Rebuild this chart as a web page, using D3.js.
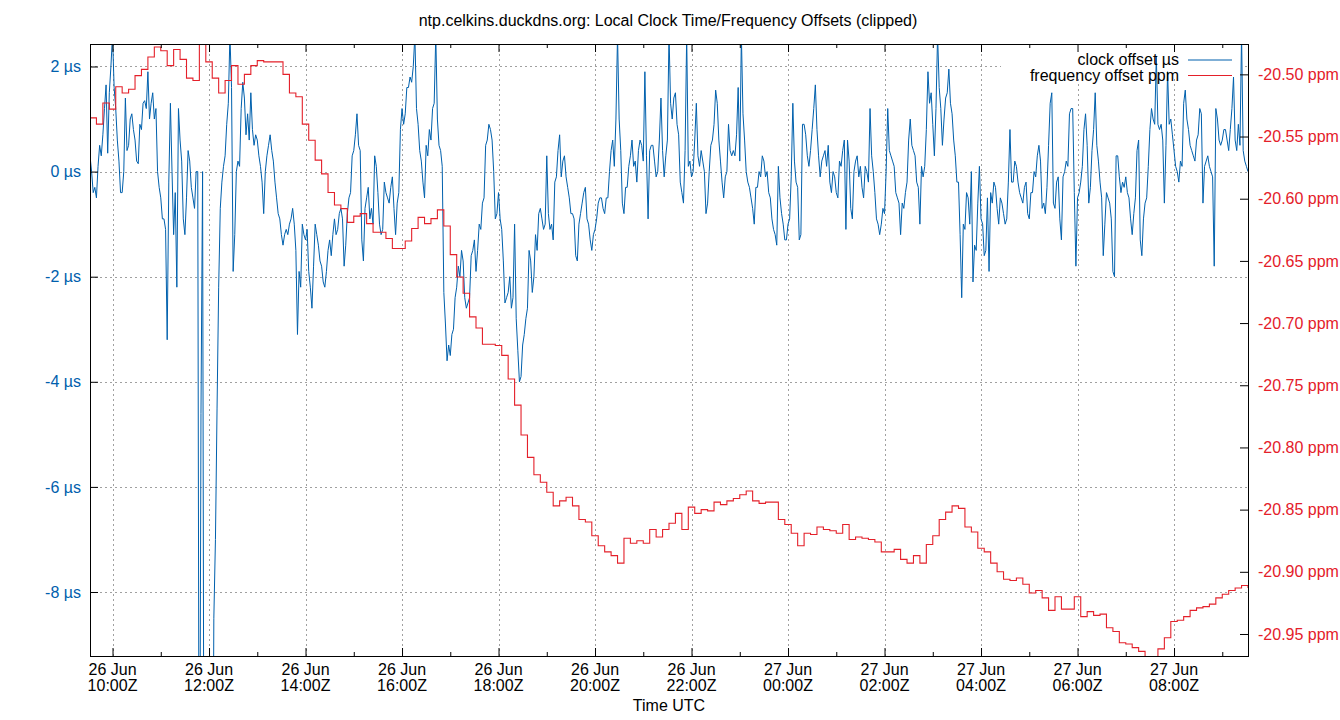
<!DOCTYPE html>
<html>
<head>
<meta charset="utf-8">
<script src="https://cdn.jsdelivr.net/npm/d3@7"></script>
<style>
  body { margin: 0; background: #fff; }
  svg { display: block; font-family: "Liberation Sans", Arial, sans-serif; }
</style>
</head>
<body>
<script>
// clock offset in µs, one value every 2 minutes from 26 Jun 09:32Z
let clockStart = Date.UTC(2023, 5, 26, 9, 32);
let clockStepMin = 2;
let clockOffsets = [
  0.3, 0.0, -0.4, -0.3, -0.5, 0.1, 0.5, 0.3, 0.7, 1.2, 1.65, 0.35, 1.5, 2.0, 2.6, 1.6, 1.2, 0.6, 0.2, -0.4,
  -0.4, 0.0, 1.4, 0.4, 0.5, 1.0, 1.1, 0.8, 0.6, 0.2, 0.15, 0.9, 0.8, 1.3, 1.35, 1.2, 1.9, 1.0, 1.3, 1.5,
  1.0, 1.2, 0.0, -0.3, -0.5, -0.9, -0.9, -1.1, -3.2, -0.2, 1.3, 0.0, -1.2, -0.4, -2.2, 1.2, 0.6, 0.2, -0.9, -1.2,
  -0.5, 0.4, 0.2, -0.3, -0.5, -0.7, 0.0, 0.0, -15, -4.6, 0.0, -15, -15, -15, -15, -15, -15, -8.5, -7.0, -4.5,
  -2.2, -0.7, -0.2, 0.1, 0.3, 0.9, 1.3, 2.6, 1.6, -1.9, -1.2, 0.0, 0.2, 0.1, 1.2, 1.7, 1.4, 0.7, 1.1, 0.6,
  1.5, 0.8, 0.5, 0.7, 0.6, 0.3, 0.1, -0.2, -0.8, 0.0, 0.3, 0.5, 0.7, 0.4, 0.2, -0.2, -0.5, -0.8, -0.9, -1.2,
  -1.4, -1.2, -1.1, -1.2, -1.0, -0.9, -0.7, -1.0, -1.5, -3.1, -1.9, -2.2, -1.0, -1.2, -1.3, -1.1, -1.9, -2.2, -2.6, -1.8,
  -1.0, -1.2, -1.4, -1.7, -1.8, -2.1, -2.2, -1.9, -1.5, -1.3, -1.6, -1.2, -0.9, -1.2, -1.1, -0.8, -0.7, -0.9, -1.8, -1.4,
  -0.8, -0.5, -0.4, 0.3, 0.4, 0.7, 1.1, 0.5, 0.4, -1.3, -1.7, -0.7, -0.5, -0.3, -0.9, -0.7, -1.0, 0.3, 0.1, -0.4,
  -1.0, -1.2, -1.1, -0.2, -0.4, -0.5, -0.6, -0.3, -0.1, -0.7, -1.2, -0.6, -0.4, 0.8, 1.2, 0.9, 1.1, 1.6, 1.6, 1.8,
  1.7, 2.0, 2.6, 1.2, 0.9, 0.4, 0.2, -0.2, -0.5, 0.5, 0.3, 0.8, 0.6, 1.2, 1.3, 2.6, 1.0, 0.5, 0.4, 0.1,
  -2.3, -2.9, -3.6, -3.3, -3.5, -3.1, -3.0, -2.4, -2.2, -1.8, -2.0, -1.5, -1.7, -2.4, -2.6, -2.5, -2.4, -1.6, -1.5, -1.3,
  -1.9, -1.5, -1.0, -1.1, -0.6, -0.5, 0.5, 0.6, 0.9, 0.8, 0.6, 0.0, -0.9, -0.8, -0.4, -0.9, -1.1, -1.7, -2.5, -2.4,
  -2.3, -2.0, -2.6, -2.4, -1.0, -2.8, -3.4, -4.0, -3.9, -3.3, -3.1, -2.8, -2.6, -1.5, -1.7, -2.3, -2.0, -1.2, -1.5, -0.8,
  -0.7, -0.9, -1.1, -1.0, 0.3, -0.8, -1.1, -1.0, -1.3, -0.2, -0.1, 0.4, 0.7, -0.1, 0.2, 0.3, -0.1, -0.3, -0.5, -0.8,
  -0.8, -0.9, -1.6, -1.7, -1.0, -0.8, -0.6, -0.4, -0.3, -0.9, -1.0, -1.3, -1.5, -1.2, -1.1, -0.9, -0.6, -0.5, -0.5, -0.7,
  -0.8, -0.5, -0.5, 0.0, 0.4, 0.6, 0.1, 1.0, 2.6, 1.0, 0.4, -0.6, -0.8, -0.3, -0.3, 0.1, 0.3, 0.6, 0.1, 0.2,
  -0.2, 0.4, 0.6, 0.5, 0.2, 1.9, 0.3, -0.9, 0.4, 0.5, 0.5, 0.2, -0.1, 0.0, 0.6, 1.4, 0.4, -0.1, 0.3, 0.6,
  2.6, 1.3, 1.0, 1.4, 1.5, 0.9, 0.7, -0.2, -0.4, -0.6, 0.4, 2.6, 0.1, 0.2, -0.1, 0.0, 0.6, 1.3, 0.3, 0.1,
  0.4, 0.2, 0.0, -0.8, -0.6, 0.0, 0.5, 0.6, 0.9, 1.55, 1.3, 0.6, 0.2, -0.2, -0.5, -0.1, 0.0, 0.9, 0.4, 0.3,
  0.4, 0.3, 0.7, 1.6, 0.2, 2.6, 1.1, 0.6, 0.0, -0.2, -0.3, -0.5, -0.7, -1.0, -0.3, -0.3, 0.0, -0.1, 0.3, 0.2,
  -0.1, 0.0, -0.4, -0.5, -0.9, -1.1, -1.2, -1.4, 0.1, -0.5, -0.8, -1.0, -1.3, -1.3, -1.0, -0.9, -0.1, 1.3, 0.2, -0.2,
  -0.3, -1.3, -1.2, 0.9, 0.9, 0.7, 0.3, 0.1, 0.4, 0.8, 1.2, 1.65, 0.8, 0.3, -0.1, 0.2, 0.3, 0.4, 0.1, 0.5,
  -0.2, -0.4, 0.0, -0.1, -0.4, -0.5, 0.2, 0.1, 0.4, 0.6, -1.1, 0.6, 0.2, -0.7, -0.9, 0.0, 0.2, 0.3, -0.1, 0.1,
  -0.3, -0.5, 0.1, 0.0, -0.2, 1.2, 0.3, 0.0, -0.4, -0.9, -1.0, -1.2, -1.0, -0.7, -0.8, 0.0, 1.2, 0.4, 0.3, 0.2,
  0.1, -0.4, -0.5, -0.6, -1.2, -0.6, -0.7, -0.4, -0.2, 0.6, 1.0, 0.5, 0.4, 0.3, -0.2, -0.3, -1.0, 0.1, -0.1, 0.1,
  0.8, 1.9, 1.3, 1.5, 0.9, 0.3, 1.2, 2.6, 1.6, 1.2, 0.5, 1.0, 1.4, 1.5, 1.95, 1.3, 1.1, 0.6, 0.3, -0.2,
  -0.2, -1.2, -2.4, -1.0, -1.1, -0.4, -0.5, -1.0, 0.0, -2.1, -1.4, -1.5, -0.6, 0.1, -0.9, -1.0, -1.6, -1.5, -0.5, -1.9,
  -0.4, -0.6, -0.2, -0.3, -0.7, -1.0, -0.5, -0.6, -0.8, -1.0, -0.9, -0.2, 0.8, -0.2, -0.2, 0.2, 0.1, -0.2, -0.4, -0.5,
  -0.6, -0.3, -0.2, -0.8, -0.9, -0.4, -0.4, 0.0, -0.1, 0.3, 0.5, 0.2, -0.7, -0.6, -0.8, -0.3, 0.5, 1.3, 1.5, -0.6,
  -0.7, -0.2, -0.1, -0.9, -1.3, -0.1, 0.0, 0.2, 0.1, 1.1, 1.2, 1.2, -0.4, -1.8, -0.5, -0.4, -0.2, 0.1, 0.8, 1.1,
  0.5, -0.6, -0.3, 0.4, 0.8, 1.5, 0.5, 0.2, -0.2, -0.5, -1.6, -1.0, -0.4, -0.5, -0.6, -0.9, -1.9, -2.0, 0.3, 0.3,
  -0.1, -0.4, -0.2, -0.3, -0.1, -0.4, -0.5, -0.9, -1.2, -0.8, -0.5, 0.4, 0.6, -1.3, -1.6, -0.9, -0.6, -0.5, 0.1, 0.8,
  1.2, 1.0, 0.9, 2.2, 0.9, 0.8, 0.9, 0.6, -0.6, 0.5, 1.9, 0.9, 1.0, 0.7, 0.4, 0.1, 0.0, -0.2, 0.2, 0.1,
  1.3, 1.55, 1.0, 0.8, 0.5, 0.4, 0.3, 0.2, 0.6, 0.7, 1.2, 1.1, -0.6, 0.1, 0.2, 0.3, 0.1, 0.0, -0.1, -1.8,
  1.2, 1.0, 0.6, 0.5, 0.6, 0.8, 0.8, 0.6, 0.4, 0.8, 1.2, 1.8, 0.6, 0.4, 0.9, 0.5, 2.6, 0.4, 0.2, 0.1,
  0.0
];

// frequency offset in ppm, one value every 8 minutes from the same start
let freqStart = Date.UTC(2023, 5, 26, 9, 32);
let freqStepMin = 8;
let freqOffsets = [
  -20.535, -20.540, -20.523, -20.528, -20.510, -20.515, -20.512, -20.501, -20.496, -20.486,
  -20.478, -20.481, -20.493, -20.480, -20.488, -20.503, -20.505, -20.460, -20.490, -20.503,
  -20.515, -20.505, -20.493, -20.508, -20.500, -20.493, -20.489, -20.490, -20.490, -20.490,
  -20.500, -20.515, -20.518, -20.540, -20.553, -20.569, -20.580, -20.595, -20.605, -20.608,
  -20.619, -20.614, -20.612, -20.620, -20.627, -20.627, -20.632, -20.640, -20.640, -20.634,
  -20.624, -20.615, -20.620, -20.616, -20.609, -20.622, -20.645, -20.663, -20.676, -20.695,
  -20.704, -20.717, -20.717, -20.718, -20.726, -20.745, -20.766, -20.790, -20.808, -20.822,
  -20.828, -20.836, -20.847, -20.843, -20.840, -20.847, -20.858, -20.860, -20.871, -20.879,
  -20.884, -20.887, -20.893, -20.873, -20.877, -20.875, -20.877, -20.866, -20.872, -20.866,
  -20.861, -20.853, -20.866, -20.848, -20.853, -20.850, -20.851, -20.844, -20.846, -20.843,
  -20.841, -20.838, -20.835, -20.843, -20.845, -20.844, -20.844, -20.858, -20.862, -20.869,
  -20.879, -20.869, -20.870, -20.864, -20.866, -20.867, -20.869, -20.862, -20.874, -20.872,
  -20.873, -20.874, -20.876, -20.884, -20.884, -20.882, -20.890, -20.893, -20.887, -20.893,
  -20.878, -20.871, -20.858, -20.852, -20.847, -20.849, -20.864, -20.868, -20.881, -20.884,
  -20.893, -20.900, -20.906, -20.907, -20.905, -20.910, -20.917, -20.915, -20.921, -20.931,
  -20.920, -20.930, -20.930, -20.920, -20.936, -20.932, -20.935, -20.934, -20.945, -20.948,
  -20.957, -20.958, -20.961, -20.964, -20.975, -20.970, -20.962, -20.953, -20.940, -20.939,
  -20.936, -20.931, -20.929, -20.928, -20.926, -20.921, -20.918, -20.915, -20.913, -20.911, -20.913
];

let usTicks = [-8, -6, -4, -2, 0, 2];
let ppmTicks = [-20.95, -20.90, -20.85, -20.80, -20.75, -20.70, -20.65, -20.60, -20.55, -20.50];

let W = 1340;
let H = 720;
let pad = { lef: 90, rig: 1248, top: 44, bot: 656 };
let blue = "#0060ad";
let red = "#e4202a";
let gridColor = "#a0a0a0";

let svg = d3.select("body")
  .append("svg")
  .attr("width", W)
  .attr("height", H)
  .attr("viewBox", "0 0 " + W + " " + H);

let xScale = d3.scaleUtc()
  .domain([new Date(Date.UTC(2023, 5, 26, 9, 32)), new Date(Date.UTC(2023, 5, 27, 9, 32))])
  .range([pad.lef, pad.rig]);
let yLeft = d3.scaleLinear().domain([-9.218, 2.428]).range([pad.bot, pad.top]);
let yRight = d3.scaleLinear().domain([-20.9677, -20.4756]).range([pad.bot, pad.top]);

let majorHours = xScale.ticks(d3.utcHour.every(2));
let minorHours = xScale.ticks(d3.utcHour.every(1)).filter(d => d.getUTCHours() % 2 == 1);

// grid
let grid = svg.append("g")
  .attr("stroke", gridColor)
  .attr("stroke-width", 1)
  .attr("stroke-dasharray", "2,3");
grid.selectAll(".hgrid")
  .data(usTicks)
  .enter()
  .append("line")
  .attr("x1", pad.lef)
  .attr("x2", pad.rig)
  .attr("y1", d => Math.round(yLeft(d)) + 0.5)
  .attr("y2", d => Math.round(yLeft(d)) + 0.5);
grid.selectAll(".vgrid")
  .data(majorHours)
  .enter()
  .append("line")
  .attr("x1", d => Math.round(xScale(d)) + 0.5)
  .attr("x2", d => Math.round(xScale(d)) + 0.5)
  .attr("y1", pad.top)
  .attr("y2", pad.bot);

// opaque key box
svg.append("rect")
  .attr("x", 1001)
  .attr("y", pad.top + 1)
  .attr("width", 243)
  .attr("height", 33)
  .attr("fill", "#fff");

// data
svg.append("clipPath")
  .attr("id", "plotclip")
  .append("rect")
  .attr("x", pad.lef)
  .attr("y", pad.top)
  .attr("width", pad.rig - pad.lef)
  .attr("height", pad.bot - pad.top);

let clockData = clockOffsets.map((v, i) => ({ t: new Date(clockStart + i * clockStepMin * 60000), v: v }));
let freqData = freqOffsets.map((v, i) => ({ t: new Date(freqStart + i * freqStepMin * 60000), v: v }));

let plot = svg.append("g").attr("clip-path", "url(#plotclip)");
plot.append("path")
  .datum(clockData)
  .attr("fill", "none")
  .attr("stroke", blue)
  .attr("stroke-width", 1)
  .attr("d", d3.line().x(d => xScale(d.t)).y(d => yLeft(d.v)));
plot.append("path")
  .datum(freqData)
  .attr("fill", "none")
  .attr("stroke", red)
  .attr("stroke-width", 1.1)
  .attr("d", d3.line().curve(d3.curveStepAfter).x(d => xScale(d.t)).y(d => yRight(d.v)));

// axes (ticks point inward like gnuplot)
svg.append("g")
  .attr("transform", "translate(" + pad.lef + ",0)")
  .call(d3.axisLeft(yLeft).tickValues(usTicks).tickSize(-8).tickPadding(9).tickFormat(d => d + " µs"))
  .call(g => g.select(".domain").remove())
  .call(g => g.selectAll("text").attr("fill", blue).attr("font-size", 16).attr("font-family", null));

svg.append("g")
  .attr("transform", "translate(" + pad.rig + ",0)")
  .call(d3.axisRight(yRight).tickValues(ppmTicks).tickSize(-8).tickPadding(10).tickFormat(d => d.toFixed(2) + " ppm"))
  .call(g => g.select(".domain").remove())
  .call(g => g.selectAll("text").attr("fill", red).attr("font-size", 16).attr("font-family", null));

svg.append("g")
  .attr("transform", "translate(0," + pad.bot + ")")
  .call(d3.axisBottom(xScale).tickValues(majorHours).tickSize(-8).tickFormat(""))
  .call(g => g.select(".domain").remove());
svg.append("g")
  .attr("transform", "translate(0," + pad.bot + ")")
  .call(d3.axisBottom(xScale).tickValues(minorHours).tickSize(-4).tickFormat(""))
  .call(g => g.select(".domain").remove());
svg.append("g")
  .attr("transform", "translate(0," + pad.top + ")")
  .call(d3.axisTop(xScale).tickValues(majorHours).tickSize(-8).tickFormat(""))
  .call(g => g.select(".domain").remove());
svg.append("g")
  .attr("transform", "translate(0," + pad.top + ")")
  .call(d3.axisTop(xScale).tickValues(minorHours).tickSize(-4).tickFormat(""))
  .call(g => g.select(".domain").remove());

let fmtDay = d3.utcFormat("%d %b");
let fmtHour = d3.utcFormat("%H:%MZ");
let xLabels = svg.selectAll(".xlab")
  .data(majorHours)
  .enter()
  .append("text")
  .attr("class", "xlab")
  .attr("font-size", 16)
  .attr("text-anchor", "middle")
  .attr("fill", "#000");
xLabels.append("tspan").attr("x", d => xScale(d)).attr("y", 675).text(d => fmtDay(d));
xLabels.append("tspan").attr("x", d => xScale(d)).attr("y", 691).text(d => fmtHour(d));

// border
svg.append("rect")
  .attr("x", pad.lef + 0.5)
  .attr("y", pad.top + 0.5)
  .attr("width", pad.rig - pad.lef)
  .attr("height", pad.bot - pad.top)
  .attr("fill", "none")
  .attr("stroke", "#000")
  .attr("stroke-width", 1);

// titles
svg.append("text")
  .text("ntp.celkins.duckdns.org: Local Clock Time/Frequency Offsets (clipped)")
  .attr("x", 668)
  .attr("y", 26)
  .attr("font-size", 16)
  .attr("text-anchor", "middle");
svg.append("text")
  .text("Time UTC")
  .attr("x", 669)
  .attr("y", 711)
  .attr("font-size", 16)
  .attr("text-anchor", "middle");

// key
let keys = [
  { label: "clock offset µs", color: blue, y: 60 },
  { label: "frequency offset ppm", color: red, y: 75.5 }
];
let key = svg.append("g");
key.selectAll(".keytext")
  .data(keys)
  .enter()
  .append("text")
  .attr("x", 1179)
  .attr("y", d => d.y + 5)
  .attr("font-size", 16)
  .attr("text-anchor", "end")
  .text(d => d.label);
key.selectAll(".keyline")
  .data(keys)
  .enter()
  .append("line")
  .attr("x1", 1188)
  .attr("x2", 1232)
  .attr("y1", d => d.y)
  .attr("y2", d => d.y)
  .attr("stroke", d => d.color)
  .attr("stroke-width", 1.1);
</script>
</body>
</html>
